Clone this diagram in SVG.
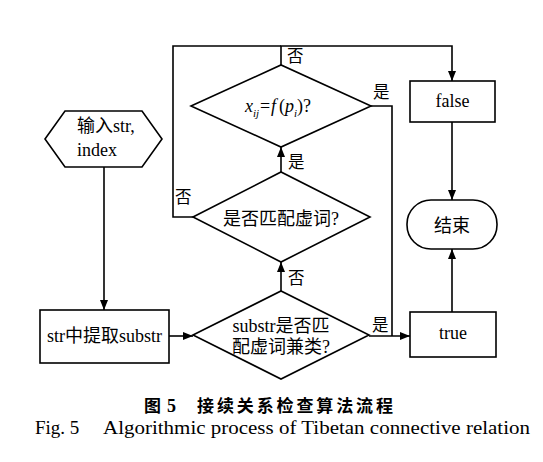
<svg xmlns="http://www.w3.org/2000/svg" width="543" height="462" viewBox="0 0 543 462">
<defs>
<marker id="arr" viewBox="0 0 10 8" refX="10" refY="4" markerWidth="10" markerHeight="8" markerUnits="userSpaceOnUse" orient="auto">
<path d="M0,0 L10,4 L0,8 Z" fill="#000"/>
</marker>
</defs>
<style>
.s{fill:#fff;stroke:#000;stroke-width:1.6}
.c{fill:none;stroke:#000;stroke-width:1.6}
.t{font-family:"Liberation Serif","Noto Sans CJK SC",serif;font-size:18px;fill:#000}
.l{font-family:"Liberation Serif","Noto Sans CJK SC",serif;font-size:16.5px;fill:#000}
.i{font-style:italic}
</style>
<rect width="543" height="462" fill="#fff"/>
<g id="connectors">
<path class="c" d="M104,167 V310" marker-end="url(#arr)"/>
<path class="c" d="M169,336 H193" marker-end="url(#arr)"/>
<path class="c" d="M281,291 V262" marker-end="url(#arr)"/>
<path class="c" d="M281,172 V147" marker-end="url(#arr)"/>
<path class="c" d="M281,65 V46 H452 V81" marker-end="url(#arr)"/>
<path class="c" d="M193,217 H173 V46 H281"/>
<path class="c" d="M371,106 H392 V336"/>
<path class="c" d="M369,336 H410" marker-end="url(#arr)"/>
<path class="c" d="M452,122 V200" marker-end="url(#arr)"/>
<path class="c" d="M452,312 V249" marker-end="url(#arr)"/>
<text class="l" x="287" y="62">否</text>
<text class="l" x="373" y="98">是</text>
<text class="l" x="288" y="168">是</text>
<text class="l" x="175" y="203">否</text>
<text class="l" x="288" y="284">否</text>
<text class="l" x="372" y="331">是</text>
</g>
<g id="input">
<polygon class="s" points="45,139 65,111 142,111 162,139 142,167 65,167"/>
<text class="t" x="77" y="132">输入str,</text>
<text class="t" x="77" y="156">index</text>
</g>
<g id="extract">
<rect class="s" x="40" y="310" width="129" height="53"/>
<text class="t" x="104.5" y="342" text-anchor="middle">str中提取substr</text>
</g>
<g id="match-class">
<polygon class="s" points="193,335 281,291 369,335 281,379"/>
<text class="t" x="281" y="332" text-anchor="middle">substr是否匹</text>
<text class="t" x="281" y="353" text-anchor="middle">配虚词兼类?</text>
</g>
<g id="match-word">
<polygon class="s" points="193,217 281,172 370,217 281,262"/>
<text class="t" x="281" y="225" text-anchor="middle">是否匹配虚词?</text>
</g>
<g id="test-f">
<polygon class="s" points="191,106 281,65 371,106 281,147"/>
<text class="t" y="112"><tspan class="i" x="245">x</tspan><tspan class="i" x="253" y="117" font-size="11">ij</tspan><tspan x="260" y="112">=</tspan><tspan class="i" x="271">f</tspan><tspan x="279">(</tspan><tspan class="i" x="285">p</tspan><tspan class="i" x="294" y="117" font-size="11">i</tspan><tspan x="297" y="112">)?</tspan></text>
</g>
<g id="false">
<rect class="s" x="410" y="81" width="85" height="41"/>
<text class="t" x="452.5" y="107" text-anchor="middle">false</text>
</g>
<g id="end">
<rect class="s" x="407" y="200" width="90" height="49" rx="24" ry="24"/>
<text class="t" x="452" y="232" text-anchor="middle">结束</text>
</g>
<g id="true">
<rect class="s" x="410" y="312" width="86" height="45"/>
<text class="t" x="453" y="339" text-anchor="middle">true</text>
</g>
<g id="caption">
<text x="144" y="412" font-family="'Noto Sans CJK SC',sans-serif" font-size="17" font-weight="bold">图<tspan x="167" font-family="'Liberation Serif',serif" font-size="18">5</tspan></text>
<text x="197" y="412" font-family="'Noto Sans CJK SC',sans-serif" font-size="17" font-weight="bold" textLength="196" lengthAdjust="spacing">接续关系检查算法流程</text>
<text x="35" y="434" font-family="'Liberation Serif',serif" font-size="19">Fig. 5</text>
<text x="103" y="434" font-family="'Liberation Serif',serif" font-size="19" textLength="427" lengthAdjust="spacingAndGlyphs">Algorithmic process of Tibetan connective relation</text>
</g>
</svg>
